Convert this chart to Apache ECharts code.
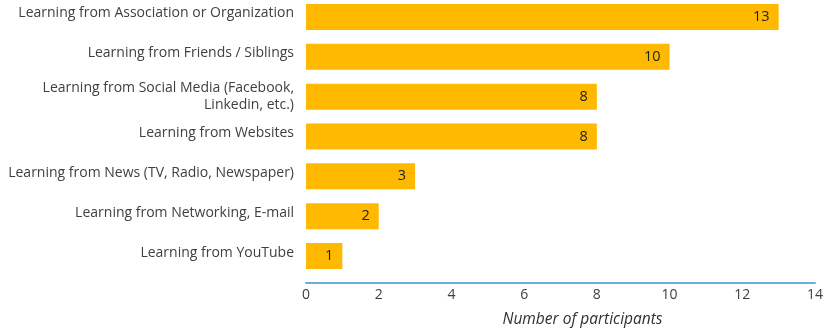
<!DOCTYPE html>
<html><head><meta charset="utf-8">
<script src="https://cdn.jsdelivr.net/npm/echarts@6/dist/echarts.min.js"></script>
<style>html,body{margin:0;padding:0;background:#fff;overflow:hidden}#c{width:826px;height:336px;margin-top:-3px}</style>
</head><body><div id="c"></div>
<script>
const categories = [
  "Learning from Association or Organization",
  "Learning from Friends / Siblings",
  "Learning from Social Media (Facebook,\nLinkedin, etc.)",
  "Learning from Websites",
  "Learning from News (TV, Radio, Newspaper)",
  "Learning from Networking, E-mail",
  "Learning from YouTube"
];
const values = [13, 10, 8, 8, 3, 2, 1];
const xTicks = [0, 2, 4, 6, 8, 10, 12, 14];
const axisTitle = "Number of participants";

const chart = echarts.init(document.getElementById('c'), null, {renderer: 'canvas'});
const font = "'Open Sans', sans-serif";
const lblStyle = {color: '#404040', fontSize: 14, fontFamily: font, lineHeight: 17, align: 'right'};
chart.setOption({
  animation: false,
  grid: {left: 306, right: 10, top: 0, height: 280, containLabel: false},
  xAxis: {
    type: 'value', min: xTicks[0], max: xTicks[xTicks.length - 1], interval: 2,
    offset: 7,
    axisLine: {show: true, lineStyle: {color: '#6aaed6', width: 2}},
    axisTick: {show: false},
    splitLine: {show: false},
    axisLabel: {color: '#404040', fontSize: 14, fontFamily: font, margin: 5},
    name: axisTitle, nameLocation: 'middle', nameGap: 29,
    nameTextStyle: {color: '#303030', fontSize: 15.5, fontStyle: 'italic', fontFamily: font, padding: [0, 0, 0, 44]}
  },
  yAxis: {
    type: 'category',
    data: categories,
    inverse: true,
    axisLine: {show: false}, axisTick: {show: false},
    axisLabel: Object.assign({}, lblStyle, {
      margin: 12,
      formatter: v => v.indexOf('\n') >= 0
        ? v.split('\n').map(s => '{m|' + s + '}').join('\n')
        : '{s|' + v + '}',
      rich: {
        m: Object.assign({}, lblStyle),
        s: Object.assign({}, lblStyle, {padding: [0, 0, 7, 0]})
      }
    })
  },
  series: [{
    type: 'bar', data: values, barWidth: 26,
    itemStyle: {color: '#ffb900'},
    label: {show: true, position: 'insideRight', distance: 9, color: '#222', fontSize: 14.5, fontFamily: font}
  }]
});
</script></body></html>
